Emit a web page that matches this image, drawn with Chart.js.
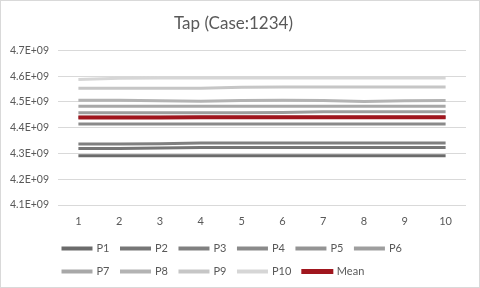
<!DOCTYPE html>
<html>
<head>
<meta charset="utf-8">
<script src="https://cdn.jsdelivr.net/npm/chart.js@4"></script>
<style>
  html, body { margin: 0; padding: 0; background: #fff; }
  #wrap { width: 478px; height: 286px; border: 1px solid #d9d9d9; }
</style>
</head>
<body>
<div id="wrap"><canvas id="grafico"></canvas></div>
<script>
const categorias = ['1', '2', '3', '4', '5', '6', '7', '8', '9', '10'];
const yTicks = ['4.1E+09', '4.2E+09', '4.3E+09', '4.4E+09', '4.5E+09', '4.6E+09', '4.7E+09'];

const p1 = [4.291e9, 4.291e9, 4.291e9, 4.291e9, 4.291e9, 4.291e9, 4.291e9, 4.291e9, 4.291e9, 4.291e9];
const p2 = [4.319e9, 4.319e9, 4.321e9, 4.323e9, 4.323e9, 4.323e9, 4.323e9, 4.323e9, 4.323e9, 4.323e9];
const p3 = [4.337e9, 4.337e9, 4.338e9, 4.341e9, 4.341e9, 4.341e9, 4.341e9, 4.341e9, 4.341e9, 4.341e9];
const p4 = [4.414e9, 4.414e9, 4.414e9, 4.414e9, 4.414e9, 4.414e9, 4.414e9, 4.414e9, 4.414e9, 4.414e9];
const p5 = [4.441e9, 4.441e9, 4.441e9, 4.441e9, 4.441e9, 4.441e9, 4.441e9, 4.441e9, 4.441e9, 4.441e9];
const p6 = [4.458e9, 4.458e9, 4.458e9, 4.458e9, 4.458e9, 4.459e9, 4.462e9, 4.462e9, 4.462e9, 4.462e9];
const p7 = [4.483e9, 4.483e9, 4.483e9, 4.483e9, 4.483e9, 4.483e9, 4.483e9, 4.483e9, 4.483e9, 4.483e9];
const p8 = [4.507e9, 4.507e9, 4.505e9, 4.503e9, 4.506e9, 4.507e9, 4.506e9, 4.502e9, 4.505e9, 4.506e9];
const p9 = [4.553e9, 4.553e9, 4.553e9, 4.553e9, 4.557e9, 4.558e9, 4.558e9, 4.558e9, 4.558e9, 4.558e9];
const p10 = [4.587e9, 4.592e9, 4.593e9, 4.593e9, 4.593e9, 4.593e9, 4.593e9, 4.593e9, 4.593e9, 4.593e9];
const mean = [4.440e9, 4.440e9, 4.440e9, 4.441e9, 4.441e9, 4.441e9, 4.441e9, 4.441e9, 4.441e9, 4.441e9];

const series = [
  { label: 'P1', data: p1, color: '#6b6b6b' },
  { label: 'P2', data: p2, color: '#767676' },
  { label: 'P3', data: p3, color: '#808080' },
  { label: 'P4', data: p4, color: '#8a8a8a' },
  { label: 'P5', data: p5, color: '#949494' },
  { label: 'P6', data: p6, color: '#9e9e9e' },
  { label: 'P7', data: p7, color: '#a8a8a8' },
  { label: 'P8', data: p8, color: '#b3b3b3' },
  { label: 'P9', data: p9, color: '#c6c6c6' },
  { label: 'P10', data: p10, color: '#d6d6d6' }
];

const datasets = series.map(s => ({
  label: s.label,
  data: s.data,
  borderColor: s.color,
  backgroundColor: s.color,
  borderWidth: 3,
  pointRadius: 0,
  tension: 0,
  order: 1
}));
datasets.push({
  label: 'Mean',
  data: mean,
  borderColor: '#a0161e',
  backgroundColor: '#a0161e',
  borderWidth: 4,
  pointRadius: 0,
  tension: 0,
  order: 0
});

Chart.defaults.font.family = 'Lato, "Liberation Sans", sans-serif';
Chart.defaults.color = '#595959';

// la leyenda de Excel arranca un poco a la izquierda del area del grafico
const moverLeyenda = {
  id: 'moverLeyenda',
  afterLayout(chart) {
    chart.legend.left -= 7;
    chart.legend.right -= 7;
  }
};

new Chart(document.getElementById('grafico'), {
  type: 'line',
  data: { labels: categorias, datasets },
  plugins: [moverLeyenda],
  options: {
    responsive: true,
    maintainAspectRatio: false,
    animation: false,
    layout: { padding: { left: 0, right: 13, top: 0, bottom: 0 } },
    plugins: {
      title: {
        display: true,
        text: 'Tap (Case:1234)',
        color: '#595959',
        font: { size: 17, weight: 'normal' },
        padding: { top: 12, bottom: 17 }
      },
      legend: {
        position: 'bottom',
        align: 'start',
        fullSize: false,
        labels: {
          boxWidth: 28,
          boxHeight: 1,
          padding: 12,
          color: '#595959',
          font: { size: 11 },
          sort: (a, b) => a.datasetIndex - b.datasetIndex
        }
      },
      tooltip: { enabled: false }
    },
    scales: {
      x: {
        offset: true,
        grid: { display: false, drawTicks: false },
        border: { display: false },
        ticks: { padding: 10, font: { size: 11 }, color: '#595959' },
        afterFit: s => { s.height = 26; }
      },
      y: {
        min: 4.1e9,
        max: 4.7e9,
        grid: { color: '#d9d9d9', drawTicks: false },
        border: { display: false },
        ticks: {
          stepSize: 1e8,
          padding: 9,
          font: { size: 10.5 },
          color: '#595959',
          callback: (v, i) => yTicks[i]
        },
        afterFit: s => { s.width = 57; }
      }
    }
  }
});
</script>
</body>
</html>
